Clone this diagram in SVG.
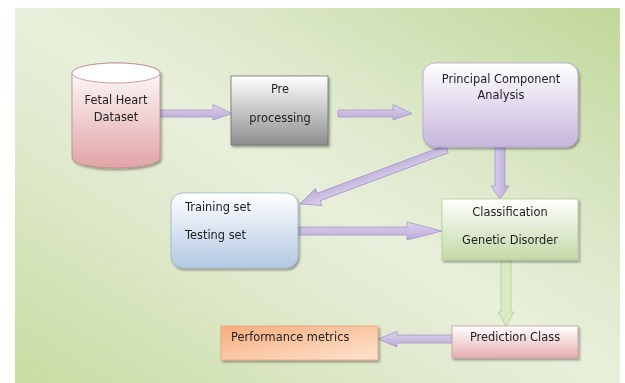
<svg xmlns="http://www.w3.org/2000/svg" width="625" height="383" viewBox="0 0 625 383">
  <defs>
    <linearGradient id="bg" x1="1" y1="0" x2="0" y2="1">
      <stop offset="0" stop-color="#c1d799"/>
      <stop offset="0.33" stop-color="#dde8ca"/>
      <stop offset="0.5" stop-color="#e8efdb"/>
      <stop offset="0.67" stop-color="#dfe9cc"/>
      <stop offset="1" stop-color="#c8dca2"/>
    </linearGradient>
    <linearGradient id="gPink" x1="0" y1="0" x2="0" y2="1">
      <stop offset="0" stop-color="#ffffff"/>
      <stop offset="1" stop-color="#e2a3a6"/>
    </linearGradient>
    <linearGradient id="gGray" x1="0" y1="0" x2="0" y2="1">
      <stop offset="0" stop-color="#ffffff"/>
      <stop offset="1" stop-color="#8e8e8e"/>
    </linearGradient>
    <linearGradient id="gLav" x1="0" y1="0" x2="0" y2="1">
      <stop offset="0" stop-color="#ffffff"/>
      <stop offset="1" stop-color="#c6b6dc"/>
    </linearGradient>
    <linearGradient id="gBlue" x1="0" y1="0" x2="0" y2="1">
      <stop offset="0" stop-color="#ffffff"/>
      <stop offset="1" stop-color="#b3c8e3"/>
    </linearGradient>
    <linearGradient id="gGreen" x1="0" y1="0" x2="0" y2="1">
      <stop offset="0" stop-color="#ffffff"/>
      <stop offset="1" stop-color="#c3d8a6"/>
    </linearGradient>
    <linearGradient id="gRose" x1="0" y1="0" x2="0" y2="1">
      <stop offset="0" stop-color="#ffffff"/>
      <stop offset="1" stop-color="#e6aeb0"/>
    </linearGradient>
    <linearGradient id="gOrange" x1="0" y1="0" x2="1" y2="1">
      <stop offset="0" stop-color="#f7ad7e"/>
      <stop offset="1" stop-color="#fde3cf"/>
    </linearGradient>
    <linearGradient id="gArrow" x1="0" y1="0" x2="0" y2="1">
      <stop offset="0" stop-color="#ddd3ee"/>
      <stop offset="1" stop-color="#b9a9d6"/>
    </linearGradient>
    <linearGradient id="gArrowV" x1="0" y1="0" x2="1" y2="0">
      <stop offset="0" stop-color="#ddd3ee"/>
      <stop offset="1" stop-color="#b9a9d6"/>
    </linearGradient>
    <filter id="shadow" x="-10%" y="-10%" width="130%" height="140%">
      <feDropShadow dx="1.5" dy="2" stdDeviation="1.2" flood-color="#000" flood-opacity="0.35"/>
    </filter>
  </defs>
  <style>
    text { font-family: "DejaVu Sans", Verdana, sans-serif; font-size: 11.4px; fill: #222; }
    .c { text-anchor: middle; }
    .arrow { fill: url(#gArrow); stroke: #a797c9; stroke-width: 0.8; }
    .arrowV { fill: url(#gArrowV); stroke: #a797c9; stroke-width: 0.8; }
    .arrowG { fill: #dbe9c4; stroke: #b3cb8f; stroke-width: 0.8; }
  </style>

  <rect x="0" y="0" width="625" height="383" fill="#ffffff"/>
  <rect x="15" y="8" width="605" height="375" fill="url(#bg)"/>

  <g id="connectors">
    <!-- dataset to pre processing -->
    <polygon class="arrow" points="160,110 213,110 213,104.5 232,113.5 213,120 213,117 160,117"/>
    <!-- pre processing to PCA -->
    <polygon class="arrow" points="338,110 393,110 393,104.5 412,113.5 393,120 393,117 338,117"/>
    <!-- PCA down to classification -->
    <polygon class="arrowV" points="495,147 505,147 505,186 509,186 500,199 491,186 495,186"/>
    <!-- PCA to training / testing set -->
    <g transform="translate(447,149) rotate(159.5)">
      <polygon class="arrow" points="0,-4 137,-4 137,-9 157,0 137,9 137,4 0,4"/>
    </g>
    <!-- training / testing set to classification -->
    <polygon class="arrow" points="298,227 407,227 407,222 442,231 407,240 407,235 298,235"/>
    <!-- classification to prediction class -->
    <polygon class="arrowG" points="501,260 511,260 511,312 514,312 506,326 498,312 501,312"/>
    <!-- prediction class to performance metrics -->
    <polygon class="arrow" points="452,335 397,335 397,331.5 378,339 397,347 397,343 452,343"/>
  </g>

  <g id="dataset" filter="url(#shadow)">
    <path d="M72,73 L72,158 A44,10 0 0 0 160,158 L160,73 A44,10 0 0 0 72,73 Z" fill="url(#gPink)" stroke="#b98a8c" stroke-width="0.8"/>
    <ellipse cx="116" cy="73" rx="44" ry="10" fill="#ffffff" stroke="#b98a8c" stroke-width="0.8"/>
    <text class="c" x="116" y="104">Fetal Heart</text>
    <text class="c" x="116" y="121">Dataset</text>
  </g>

  <g id="preprocessing" filter="url(#shadow)">
    <rect x="231" y="76" width="97" height="69" fill="url(#gGray)" stroke="#6f6f6f" stroke-width="0.8"/>
    <text class="c" x="280" y="93">Pre</text>
    <text class="c" x="280" y="122">processing</text>
  </g>

  <g id="pca" filter="url(#shadow)">
    <rect x="423" y="63" width="155" height="84" rx="12" fill="url(#gLav)" stroke="#b5a6d0" stroke-width="0.8"/>
    <text class="c" x="501" y="83">Principal Component</text>
    <text class="c" x="501" y="99">Analysis</text>
  </g>

  <g id="datasets-split" filter="url(#shadow)">
    <rect x="171" y="193" width="127" height="75" rx="12" fill="url(#gBlue)" stroke="#9fb4d2" stroke-width="0.8"/>
    <text x="185" y="211">Training set</text>
    <text x="185" y="239">Testing set</text>
  </g>

  <g id="classification" filter="url(#shadow)">
    <rect x="442" y="199" width="136" height="61" fill="url(#gGreen)" stroke="#b3cb95" stroke-width="0.8"/>
    <text class="c" x="510" y="216">Classification</text>
    <text class="c" x="510" y="244">Genetic Disorder</text>
  </g>

  <g id="prediction" filter="url(#shadow)">
    <rect x="452" y="326" width="126" height="32" fill="url(#gRose)" stroke="#cf9a9c" stroke-width="0.8"/>
    <text class="c" x="515" y="341">Prediction Class</text>
  </g>

  <g id="performance" filter="url(#shadow)">
    <rect x="221" y="326" width="157" height="34" fill="url(#gOrange)" stroke="#e8a070" stroke-width="0.8"/>
    <text x="231" y="341">Performance metrics</text>
  </g>
</svg>
